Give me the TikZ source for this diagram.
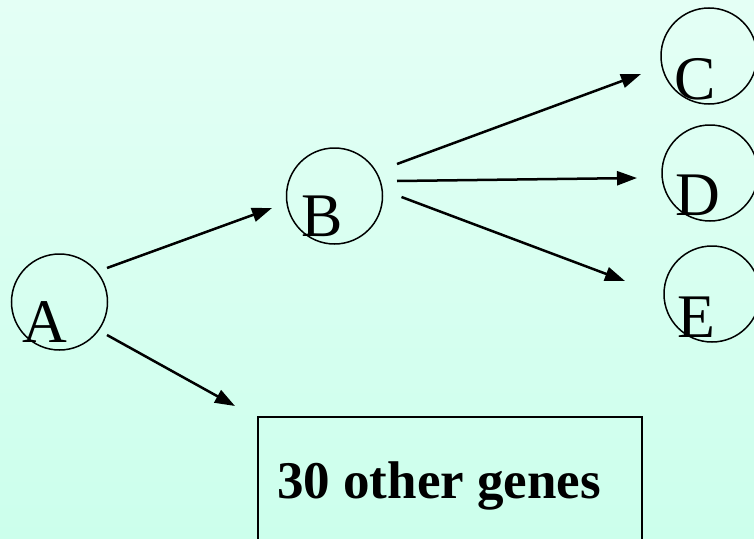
\documentclass[tikz,border=0pt]{standalone}
\usepackage{fontspec}
\setmainfont{Liberation Serif}
\usetikzlibrary{arrows.meta}

\definecolor{bgtop}{RGB}{228,255,245}
\definecolor{bgbottom}{RGB}{204,255,236}

\tikzset{
  gene/.style={draw=black, circle, line width=1.5pt, minimum size=96pt, inner sep=0pt},
  genelabel/.style={anchor=base west, inner sep=0pt, font=\fontsize{62}{62}\selectfont},
  link/.style={line width=2.5pt, -{Triangle[length=20pt,width=14pt]}},
  groupbox/.style={draw=black, line width=2pt, rectangle, anchor=north west,
    minimum width=384pt, minimum height=160pt, inner sep=0pt},
  grouplabel/.style={anchor=base west, inner sep=0pt, font=\fontsize{53}{53}\selectfont\bfseries}
}

\begin{document}
\begin{tikzpicture}[x=1pt, y=-1pt]
  % page and background
  \useasboundingbox (0,0) rectangle (754,538);
  \shade[top color=bgtop, bottom color=bgbottom] (0,0) rectangle (754,538);
  \clip (0,0) rectangle (754,538);

  % genes
  \node[gene] (A) at (59.5,302) {};
  \node[gene] (B) at (334.5,196) {};
  \node[gene] (C) at (709,56) {};
  \node[gene] (D) at (710,173) {};
  \node[gene] (E) at (712,294) {};

  \node[genelabel] (Alab) at ([shift={(-37,40)}]A.center) {A};
  \node[genelabel] (Blab) at ([shift={(-33,40)}]B.center) {B};
  \node[genelabel] (Clab) at ([shift={(-35,43)}]C.center) {C};
  \node[genelabel] (Dlab) at ([shift={(-35,42)}]D.center) {D};
  \node[genelabel] (Elab) at ([shift={(-35,43)}]E.center) {E};

  % group of other targets
  \node[groupbox] (G) at (257,416) {};
  \node[grouplabel] (Glab) at (277,498) {30 other genes};

  % connector ends
  \coordinate (A-up)   at ([shift={(47.5,-34)}]A.center);
  \coordinate (A-down) at ([shift={(47.5,33)}]A.center);
  \coordinate (B-in)   at ([shift={(-62.5,12)}]B.center);
  \coordinate (B-c)    at ([shift={(62.5,-32)}]B.center);
  \coordinate (B-d)    at ([shift={(62.5,-15)}]B.center);
  \coordinate (B-e)    at ([shift={(67,1)}]B.center);
  \coordinate (C-in)   at ([shift={(-68,18)}]C.center);
  \coordinate (D-in)   at ([shift={(-73,5)}]D.center);
  \coordinate (E-in)   at ([shift={(-87,-13)}]E.center);
  \coordinate (G-in)   at ([shift={(-22,-10)}]G.north west);

  % regulation arrows
  \draw[link] (A-up) -- (B-in);
  \draw[link] (A-down) -- (G-in);
  \draw[link] (B-c) -- (C-in);
  \draw[link] (B-d) -- (D-in);
  \draw[link] (B-e) -- (E-in);
\end{tikzpicture}
\end{document}
